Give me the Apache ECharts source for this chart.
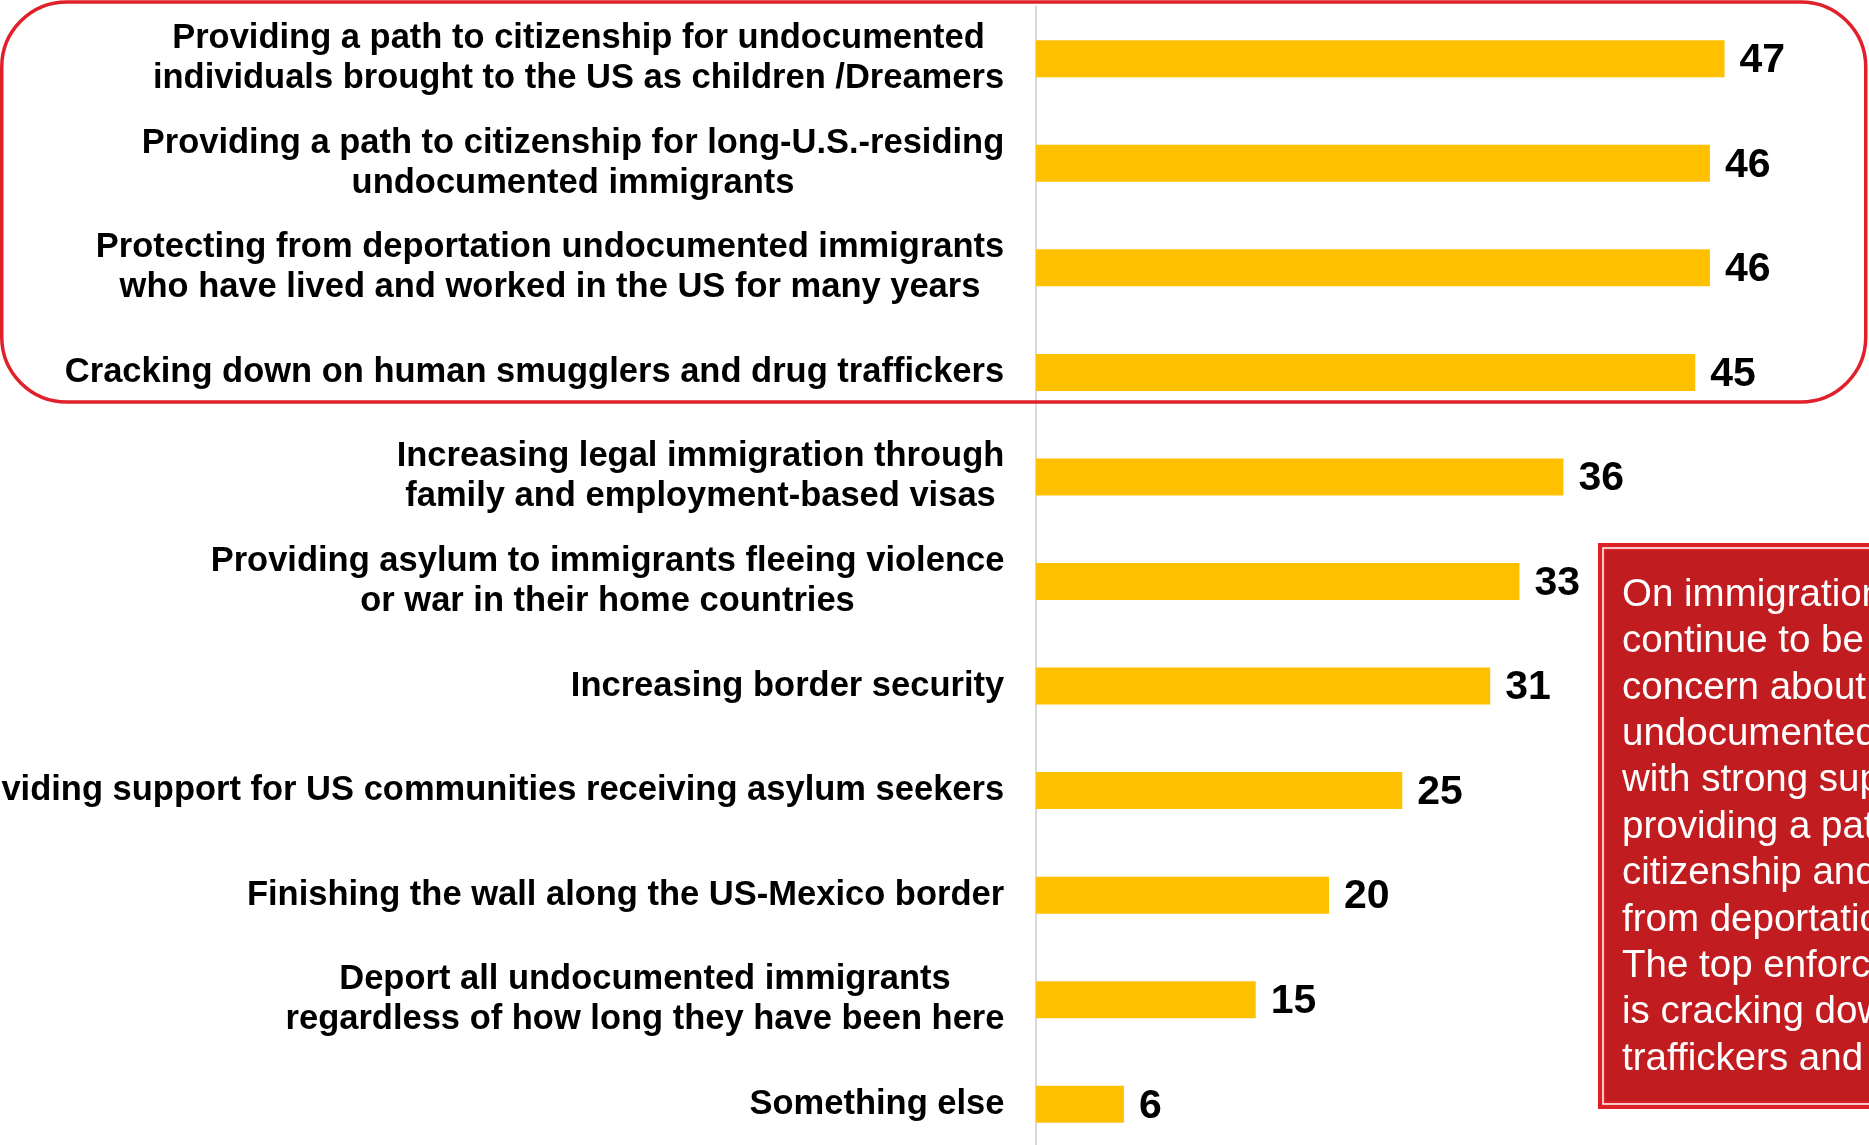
<!DOCTYPE html>
<html>
<head>
<meta charset="utf-8">
<script src="https://cdn.jsdelivr.net/npm/echarts@6/dist/echarts.min.js"></script>
<style>
html,body{margin:0;padding:0;background:#fff;}
#chart{width:1869px;height:1145px;}
</style>
</head>
<body>
<div id="chart"></div>
<script>
const categories = [
  'Providing a path to citizenship for undocumented\nindividuals brought to the US as children /Dreamers',
  'Providing a path to citizenship for long-U.S.-residing\nundocumented immigrants',
  'Protecting from deportation undocumented immigrants\nwho have lived and worked in the US for many years',
  'Cracking down on human smugglers and drug traffickers',
  'Increasing legal immigration through\nfamily and employment-based visas',
  'Providing asylum to immigrants fleeing violence\nor war in their home countries',
  'Increasing border security',
  'Providing support for US communities receiving asylum seekers',
  'Finishing the wall along the US-Mexico border',
  'Deport all undocumented immigrants\nregardless of how long they have been here',
  'Something else'
];
const values = [47, 46, 46, 45, 36, 33, 31, 25, 20, 15, 6];
const noteLines = [
  'On immigration',
  'continue to be',
  'concern about',
  'undocumented',
  'with strong support',
  'providing a path',
  'citizenship and',
  'from deportation',
  'The top enforcement',
  'is cracking down',
  'traffickers and'
];

const LABEL_FONT_SIZE = 34.5;
const ctx = document.createElement('canvas').getContext('2d');
ctx.font = 'bold ' + LABEL_FONT_SIZE + 'px Arial';
const rich = {};
categories.forEach((c, i) => {
  const w = Math.max(...c.split('\n').map(l => ctx.measureText(l).width));
  rich['r' + i] = {
    width: Math.ceil(w) + 1,
    align: 'center',
    fontSize: LABEL_FONT_SIZE,
    fontWeight: 'bold',
    fontFamily: 'Arial',
    color: '#000',
    lineHeight: 40
  };
});

const chart = echarts.init(document.getElementById('chart'), null, {renderer: 'canvas'});
const boxX = 1598, boxY = 543, boxW = 300, boxH = 566;
chart.setOption({
  animation: false,
  backgroundColor: '#fff',
  grid: {left: 1036, top: 6.5, width: 732.5, height: 1150, containLabel: false, outerBoundsMode: 'none'},
  xAxis: {
    type: 'value', min: 0, max: 50, show: false
  },
  yAxis: {
    type: 'category',
    data: categories,
    inverse: true,
    axisTick: {show: false},
    axisLine: {show: true, lineStyle: {color: '#d9d9d9', width: 2}},
    splitLine: {show: false},
    axisLabel: {
      interval: 0,
      margin: 31,
      formatter: function (value) {
        const i = categories.indexOf(value);
        return value.split('\n').map(l => '{r' + i + '|' + l + '}').join('\n');
      },
      rich: rich
    }
  },
  series: [{
    type: 'bar',
    data: values,
    barWidth: 37,
    itemStyle: {color: '#FFC000'},
    label: {
      show: true,
      position: 'right',
      distance: 15,
      offset: [0, 2],
      fontSize: 41,
      fontWeight: 'bold',
      fontFamily: 'Arial',
      color: '#000'
    }
  }],
  graphic: [
    {
      type: 'rect',
      shape: {x: 1.75, y: 2, width: 1864, height: 400, r: 65},
      style: {fill: 'none', stroke: '#e0202b', lineWidth: 3.5},
      z: 10
    },
    {
      type: 'rect',
      shape: {x: boxX, y: boxY, width: boxW, height: boxH},
      style: {fill: '#dd2128'},
      z: 10
    },
    {
      type: 'rect',
      shape: {x: boxX + 5, y: boxY + 5, width: boxW, height: boxH - 10},
      style: {fill: 'none', stroke: '#ffffff', lineWidth: 1.5},
      z: 11
    },
    {
      type: 'rect',
      shape: {x: boxX + 7.5, y: boxY + 7.5, width: boxW, height: boxH - 15},
      style: {fill: '#c11c20'},
      z: 11
    },
    {
      type: 'text',
      x: 1622,
      y: 572,
      style: {
        text: noteLines.join('\n'),
        fill: '#ffffff',
        font: '38.5px Arial',
        lineHeight: 46.4,
        verticalAlign: 'top',
        align: 'left'
      },
      z: 12
    }
  ]
});
</script>
</body>
</html>
